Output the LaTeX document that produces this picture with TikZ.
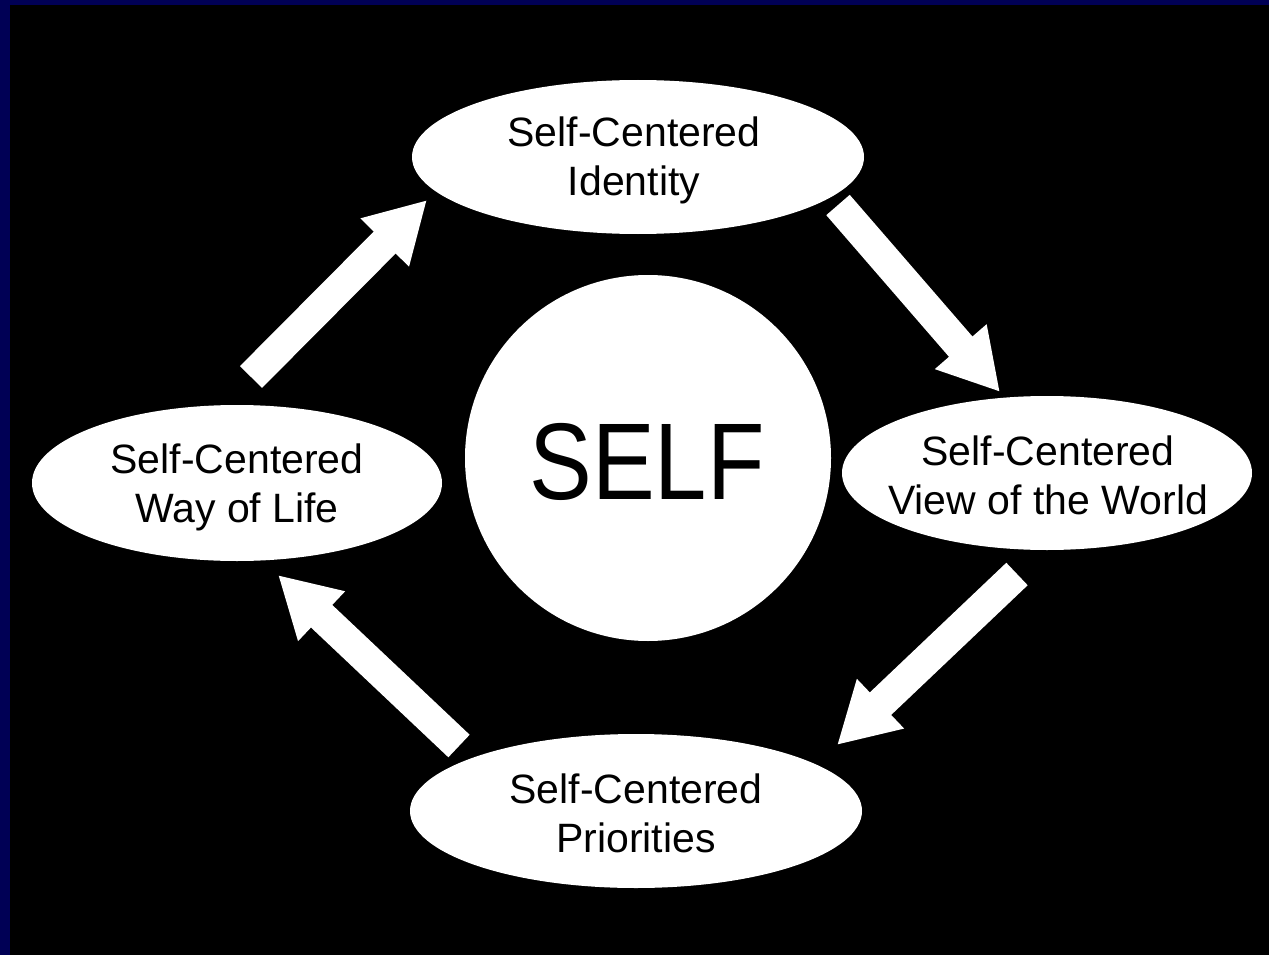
\documentclass[tikz,border=0pt]{standalone}
\usepackage{fontspec}
\setmainfont{Liberation Sans}
\usetikzlibrary{arrows.meta}
\definecolor{navy}{RGB}{0,0,85}
\begin{document}
\begin{tikzpicture}[x=1pt,y=-1pt,
  lbl/.style={align=center,font=\fontsize{41}{49}\selectfont,text=black,inner sep=0pt},
  bubble/.style={fill=white},
  blockarrow/.style={draw=white,line width=31pt,line cap=butt,-{Triangle[length=60pt,width=64pt,fill=white]}}]
\useasboundingbox (0,0) rectangle (1269,955);
\fill[black] (0,0) rectangle (1269,955);
\fill[navy] (0,0) rectangle (10,955);
\fill[navy] (0,0) rectangle (1269,5);
% ellipses and circle
\fill[bubble] (638,157) ellipse [x radius=226, y radius=77];
\fill[bubble] (1047,473) ellipse [x radius=205, y radius=77];
\fill[bubble] (636,811) ellipse [x radius=226, y radius=77];
\fill[bubble] (237,483) ellipse [x radius=205, y radius=78];
\fill[bubble] (648,458) circle [radius=183];
% texts
\node[lbl] (identity) at (634,160) {Self-Centered\\Identity};
\node[lbl] (world) at (1048,475) {Self-Centered\\View of the World};
\node[lbl] (priorities) at (636,813) {Self-Centered\\Priorities};
\node[lbl] (life) at (237,487) {Self-Centered\\Way of Life};
\node[font=\fontsize{94}{94}\selectfont,inner sep=0pt,yscale=1.16,transform shape] (self) at (647,462) {SELF};
% arrows
\coordinate (a1s) at (251,377); \coordinate (a1e) at (427,200);
\coordinate (a2s) at (838,205); \coordinate (a2e) at (1000,392);
\coordinate (a3s) at (1017,574); \coordinate (a3e) at (837,745);
\coordinate (a4s) at (459,746); \coordinate (a4e) at (278,575);
\draw[blockarrow] (a1s) -- (a1e);
\draw[blockarrow] (a2s) -- (a2e);
\draw[blockarrow] (a3s) -- (a3e);
\draw[blockarrow] (a4s) -- (a4e);
\end{tikzpicture}
\end{document}
